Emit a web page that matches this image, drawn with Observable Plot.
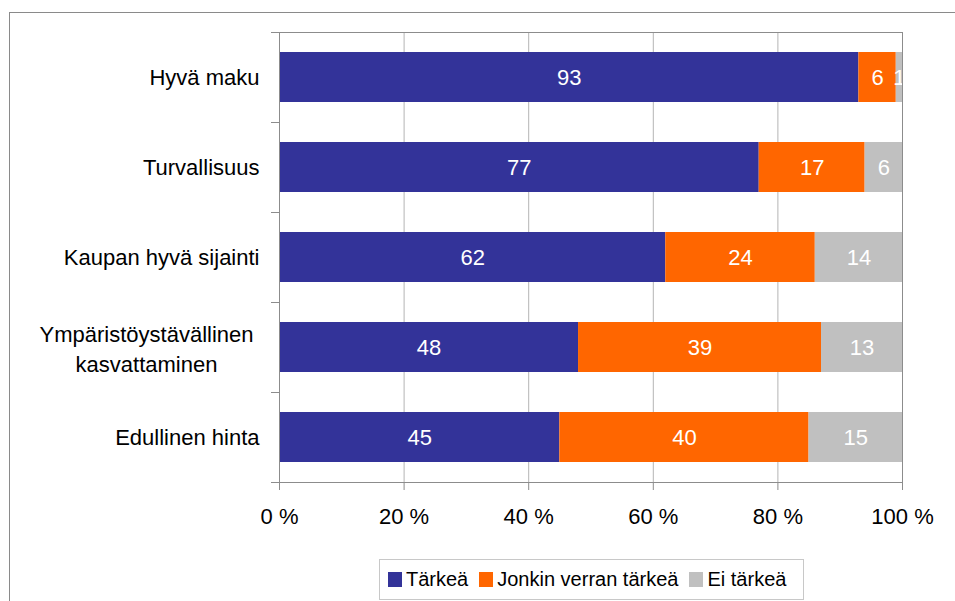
<!DOCTYPE html>
<html>
<head>
<meta charset="utf-8">
<script src="https://cdn.jsdelivr.net/npm/d3@7"></script>
<script src="https://cdn.jsdelivr.net/npm/@observablehq/plot@0.6"></script>
<style>
  html, body { margin: 0; padding: 0; background: #fff; overflow: hidden; }
  #wrap { position: relative; width: 955px; height: 601px; overflow: hidden; font-family: "Liberation Sans", Arial, sans-serif; }
  #chart { position: absolute; left: 0; top: 0; }
  #outer { position: absolute; left: 9px; top: 12px; width: 1100px; height: 800px; border: 1px solid #8a8a8a; pointer-events: none; }
  #legend { position: absolute; left: 379px; top: 559px; width: 425px; height: 41px; box-sizing: border-box;
            border: 1px solid #c8c8c8; display: flex; align-items: center; padding-left: 8px; font-size: 20px; color: #000; }
  #legend .item { display: flex; align-items: center; margin-right: 11px; }
  #legend .sw { width: 14px; height: 15px; margin-right: 4px; }
</style>
</head>
<body>
<div id="wrap">
  <div id="chart"></div>
  <div id="outer"></div>
  <div id="legend"></div>
</div>
<script>
const categories = ["Hyvä maku", "Turvallisuus", "Kaupan hyvä sijainti", "Ympäristöystävällinen kasvattaminen", "Edullinen hinta"];
const categoryLabels = ["Hyvä maku", "Turvallisuus", "Kaupan hyvä sijainti", "Ympäristöystävällinen\nkasvattaminen", "Edullinen hinta"];
const series = ["Tärkeä", "Jonkin verran tärkeä", "Ei tärkeä"];
const tarkea = [93, 77, 62, 48, 45];
const jonkinVerran = [6, 17, 24, 39, 40];
const eiTarkea = [1, 6, 14, 13, 15];
const colors = ["#333399", "#FF6600", "#C0C0C0"];
const xTicks = [0, 20, 40, 60, 80, 100];
const gridTicks = [20, 40, 60, 80];

const seriesValues = [tarkea, jonkinVerran, eiTarkea];
const data = categories.flatMap((c, i) => seriesValues.map((arr, j) => ({category: c, series: series[j], value: arr[i]})));
const labelOf = new Map(categories.map((c, i) => [c, categoryLabels[i]]));
const multi = categories.filter(c => labelOf.get(c).includes("\n"));
const single = categories.filter(c => !labelOf.get(c).includes("\n"));

const axisColor = "#8c8c8c";
const font = "'Liberation Sans', Arial, sans-serif";

const chart = Plot.plot({
  width: 955,
  height: 545,
  marginLeft: 279,
  marginRight: 53,
  marginTop: 32,
  marginBottom: 63,
  style: {background: "transparent", fontFamily: font, fontSize: "22px", color: "#000", overflow: "visible"},
  x: {domain: [0, 100], label: null},
  y: {domain: categories, padding: 0, label: null},
  color: {domain: series, range: colors},
  marks: [
    Plot.gridX(gridTicks, {stroke: "#b4b4b4", strokeOpacity: 1}),
    Plot.barX(data, Plot.stackX({y: "category", x: "value", fill: "series", z: "series", order: series, insetTop: 20, insetBottom: 20})),
    Plot.text(data, Plot.stackX({y: "category", x: "value", z: "series", order: series, text: d => String(d.value), fill: "white", fontSize: 22})),
    Plot.frame({stroke: axisColor}),
    Plot.axisX({ticks: xTicks, tickFormat: d => d + " %", tickSize: 8, tickPadding: 18, stroke: axisColor, fill: "black", fontSize: 22, label: null}),
    Plot.axisY({ticks: categories, tickSize: 8, tickFormat: () => "", dy: -45, stroke: axisColor, label: null}),
    Plot.axisY({ticks: [categories[categories.length - 1]], tickSize: 8, tickFormat: () => "", dy: 45, stroke: axisColor, label: null}),
    Plot.axisY({ticks: single, tickSize: 0, tickPadding: 20, tickFormat: d => labelOf.get(d), fill: "black", fontSize: 22, label: null}),
    Plot.axisY({ticks: multi, tickSize: 0, tickPadding: 133, textAnchor: "middle", lineHeight: 1.36, tickFormat: d => labelOf.get(d), fill: "black", fontSize: 22, label: null})
  ]
});
document.getElementById("chart").appendChild(chart);

const legend = document.getElementById("legend");
series.forEach((s, i) => {
  const item = document.createElement("div");
  item.className = "item";
  const sw = document.createElement("div");
  sw.className = "sw";
  sw.style.background = colors[i];
  const t = document.createElement("span");
  t.textContent = s;
  item.appendChild(sw);
  item.appendChild(t);
  legend.appendChild(item);
});
</script>
</body>
</html>
